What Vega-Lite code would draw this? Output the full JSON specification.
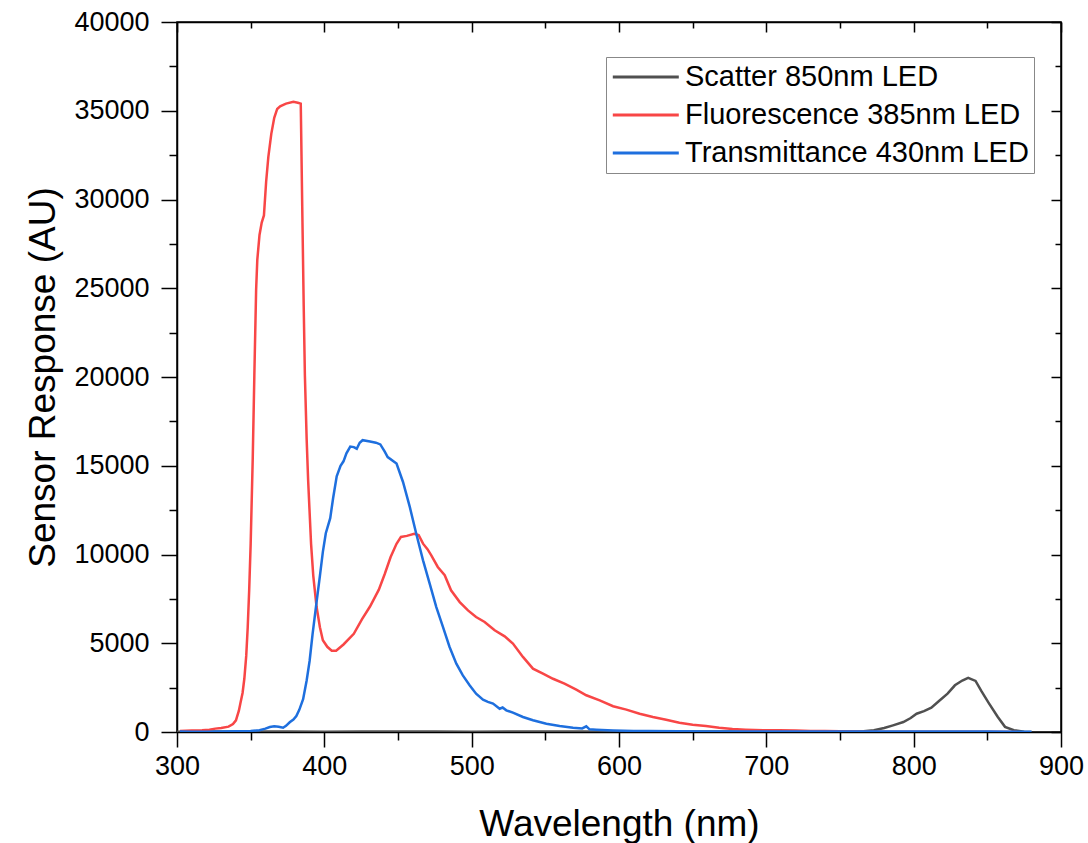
{
  "$schema": "https://vega.github.io/schema/vega-lite/v6.json",
  "width": 884,
  "height": 710,
  "autosize": "none",
  "padding": {"left": 177, "top": 22, "right": 27, "bottom": 111},
  "background": "white",
  "config": {
    "view": {"stroke": "black", "strokeWidth": 1.5},
    "axis": {
      "grid": false,
      "domainColor": "black",
      "domainWidth": 1.5,
      "tickColor": "black",
      "tickWidth": 1.5,
      "labelFont": "Liberation Sans",
      "labelColor": "black",
      "labelFlush": false,
      "labelOverlap": false,
      "titleFont": "Liberation Sans",
      "titleColor": "black",
      "titleFontWeight": "normal"
    }
  },
  "datasets": {
    "spectra": [
      {"wavelength": 300, "response": 20, "series": "Scatter 850nm LED"},
      {"wavelength": 325, "response": 30, "series": "Scatter 850nm LED"},
      {"wavelength": 350, "response": 20, "series": "Scatter 850nm LED"},
      {"wavelength": 375, "response": 35, "series": "Scatter 850nm LED"},
      {"wavelength": 400, "response": 20, "series": "Scatter 850nm LED"},
      {"wavelength": 425, "response": 30, "series": "Scatter 850nm LED"},
      {"wavelength": 450, "response": 25, "series": "Scatter 850nm LED"},
      {"wavelength": 475, "response": 35, "series": "Scatter 850nm LED"},
      {"wavelength": 500, "response": 20, "series": "Scatter 850nm LED"},
      {"wavelength": 525, "response": 30, "series": "Scatter 850nm LED"},
      {"wavelength": 550, "response": 25, "series": "Scatter 850nm LED"},
      {"wavelength": 575, "response": 30, "series": "Scatter 850nm LED"},
      {"wavelength": 600, "response": 20, "series": "Scatter 850nm LED"},
      {"wavelength": 625, "response": 30, "series": "Scatter 850nm LED"},
      {"wavelength": 650, "response": 25, "series": "Scatter 850nm LED"},
      {"wavelength": 675, "response": 30, "series": "Scatter 850nm LED"},
      {"wavelength": 700, "response": 20, "series": "Scatter 850nm LED"},
      {"wavelength": 725, "response": 30, "series": "Scatter 850nm LED"},
      {"wavelength": 750, "response": 30, "series": "Scatter 850nm LED"},
      {"wavelength": 766, "response": 40, "series": "Scatter 850nm LED"},
      {"wavelength": 773, "response": 95, "series": "Scatter 850nm LED"},
      {"wavelength": 780, "response": 225, "series": "Scatter 850nm LED"},
      {"wavelength": 786, "response": 375, "series": "Scatter 850nm LED"},
      {"wavelength": 793, "response": 560, "series": "Scatter 850nm LED"},
      {"wavelength": 798, "response": 790, "series": "Scatter 850nm LED"},
      {"wavelength": 802, "response": 1030, "series": "Scatter 850nm LED"},
      {"wavelength": 807, "response": 1180, "series": "Scatter 850nm LED"},
      {"wavelength": 812, "response": 1370, "series": "Scatter 850nm LED"},
      {"wavelength": 817, "response": 1730, "series": "Scatter 850nm LED"},
      {"wavelength": 823, "response": 2160, "series": "Scatter 850nm LED"},
      {"wavelength": 828, "response": 2630, "series": "Scatter 850nm LED"},
      {"wavelength": 833, "response": 2900, "series": "Scatter 850nm LED"},
      {"wavelength": 837, "response": 3050, "series": "Scatter 850nm LED"},
      {"wavelength": 842, "response": 2880, "series": "Scatter 850nm LED"},
      {"wavelength": 846, "response": 2300, "series": "Scatter 850nm LED"},
      {"wavelength": 851, "response": 1630, "series": "Scatter 850nm LED"},
      {"wavelength": 857, "response": 860, "series": "Scatter 850nm LED"},
      {"wavelength": 862, "response": 290, "series": "Scatter 850nm LED"},
      {"wavelength": 868, "response": 100, "series": "Scatter 850nm LED"},
      {"wavelength": 875, "response": 10, "series": "Scatter 850nm LED"},
      {"wavelength": 880, "response": 5, "series": "Scatter 850nm LED"},

      {"wavelength": 302, "response": 60, "series": "Fluorescence 385nm LED"},
      {"wavelength": 310, "response": 90, "series": "Fluorescence 385nm LED"},
      {"wavelength": 317, "response": 100, "series": "Fluorescence 385nm LED"},
      {"wavelength": 322, "response": 130, "series": "Fluorescence 385nm LED"},
      {"wavelength": 326, "response": 190, "series": "Fluorescence 385nm LED"},
      {"wavelength": 330, "response": 230, "series": "Fluorescence 385nm LED"},
      {"wavelength": 335, "response": 300, "series": "Fluorescence 385nm LED"},
      {"wavelength": 338, "response": 450, "series": "Fluorescence 385nm LED"},
      {"wavelength": 340, "response": 660, "series": "Fluorescence 385nm LED"},
      {"wavelength": 342, "response": 1200, "series": "Fluorescence 385nm LED"},
      {"wavelength": 343, "response": 1600, "series": "Fluorescence 385nm LED"},
      {"wavelength": 344.5, "response": 2200, "series": "Fluorescence 385nm LED"},
      {"wavelength": 345.7, "response": 3000, "series": "Fluorescence 385nm LED"},
      {"wavelength": 347, "response": 4300, "series": "Fluorescence 385nm LED"},
      {"wavelength": 348, "response": 5900, "series": "Fluorescence 385nm LED"},
      {"wavelength": 349, "response": 8000, "series": "Fluorescence 385nm LED"},
      {"wavelength": 350, "response": 10600, "series": "Fluorescence 385nm LED"},
      {"wavelength": 351.4, "response": 15400, "series": "Fluorescence 385nm LED"},
      {"wavelength": 352.5, "response": 20100, "series": "Fluorescence 385nm LED"},
      {"wavelength": 353.7, "response": 24900, "series": "Fluorescence 385nm LED"},
      {"wavelength": 354.5, "response": 26600, "series": "Fluorescence 385nm LED"},
      {"wavelength": 356, "response": 28000, "series": "Fluorescence 385nm LED"},
      {"wavelength": 357.5, "response": 28700, "series": "Fluorescence 385nm LED"},
      {"wavelength": 359, "response": 29100, "series": "Fluorescence 385nm LED"},
      {"wavelength": 360.5, "response": 31000, "series": "Fluorescence 385nm LED"},
      {"wavelength": 362, "response": 32400, "series": "Fluorescence 385nm LED"},
      {"wavelength": 364, "response": 33700, "series": "Fluorescence 385nm LED"},
      {"wavelength": 366, "response": 34600, "series": "Fluorescence 385nm LED"},
      {"wavelength": 368, "response": 35100, "series": "Fluorescence 385nm LED"},
      {"wavelength": 370, "response": 35250, "series": "Fluorescence 385nm LED"},
      {"wavelength": 374, "response": 35400, "series": "Fluorescence 385nm LED"},
      {"wavelength": 379, "response": 35500, "series": "Fluorescence 385nm LED"},
      {"wavelength": 382, "response": 35450, "series": "Fluorescence 385nm LED"},
      {"wavelength": 384, "response": 35400, "series": "Fluorescence 385nm LED"},
      {"wavelength": 385, "response": 29600, "series": "Fluorescence 385nm LED"},
      {"wavelength": 386, "response": 24000, "series": "Fluorescence 385nm LED"},
      {"wavelength": 386.8, "response": 20100, "series": "Fluorescence 385nm LED"},
      {"wavelength": 388, "response": 16500, "series": "Fluorescence 385nm LED"},
      {"wavelength": 389, "response": 14200, "series": "Fluorescence 385nm LED"},
      {"wavelength": 391, "response": 10600, "series": "Fluorescence 385nm LED"},
      {"wavelength": 392.5, "response": 8800, "series": "Fluorescence 385nm LED"},
      {"wavelength": 394.7, "response": 7070, "series": "Fluorescence 385nm LED"},
      {"wavelength": 397, "response": 5900, "series": "Fluorescence 385nm LED"},
      {"wavelength": 399, "response": 5170, "series": "Fluorescence 385nm LED"},
      {"wavelength": 402, "response": 4800, "series": "Fluorescence 385nm LED"},
      {"wavelength": 405, "response": 4580, "series": "Fluorescence 385nm LED"},
      {"wavelength": 408, "response": 4580, "series": "Fluorescence 385nm LED"},
      {"wavelength": 413, "response": 4930, "series": "Fluorescence 385nm LED"},
      {"wavelength": 420, "response": 5530, "series": "Fluorescence 385nm LED"},
      {"wavelength": 425.6, "response": 6360, "series": "Fluorescence 385nm LED"},
      {"wavelength": 431, "response": 7070, "series": "Fluorescence 385nm LED"},
      {"wavelength": 437, "response": 8020, "series": "Fluorescence 385nm LED"},
      {"wavelength": 441, "response": 8900, "series": "Fluorescence 385nm LED"},
      {"wavelength": 445, "response": 9860, "series": "Fluorescence 385nm LED"},
      {"wavelength": 449, "response": 10600, "series": "Fluorescence 385nm LED"},
      {"wavelength": 452, "response": 10990, "series": "Fluorescence 385nm LED"},
      {"wavelength": 456, "response": 11050, "series": "Fluorescence 385nm LED"},
      {"wavelength": 461, "response": 11170, "series": "Fluorescence 385nm LED"},
      {"wavelength": 464, "response": 11100, "series": "Fluorescence 385nm LED"},
      {"wavelength": 467, "response": 10610, "series": "Fluorescence 385nm LED"},
      {"wavelength": 470, "response": 10300, "series": "Fluorescence 385nm LED"},
      {"wavelength": 472.6, "response": 9950, "series": "Fluorescence 385nm LED"},
      {"wavelength": 477, "response": 9300, "series": "Fluorescence 385nm LED"},
      {"wavelength": 481.7, "response": 8830, "series": "Fluorescence 385nm LED"},
      {"wavelength": 486, "response": 7980, "series": "Fluorescence 385nm LED"},
      {"wavelength": 491.9, "response": 7320, "series": "Fluorescence 385nm LED"},
      {"wavelength": 497.5, "response": 6850, "series": "Fluorescence 385nm LED"},
      {"wavelength": 503, "response": 6480, "series": "Fluorescence 385nm LED"},
      {"wavelength": 508.8, "response": 6200, "series": "Fluorescence 385nm LED"},
      {"wavelength": 515.6, "response": 5730, "series": "Fluorescence 385nm LED"},
      {"wavelength": 522.4, "response": 5390, "series": "Fluorescence 385nm LED"},
      {"wavelength": 528, "response": 4980, "series": "Fluorescence 385nm LED"},
      {"wavelength": 534.8, "response": 4230, "series": "Fluorescence 385nm LED"},
      {"wavelength": 541.6, "response": 3570, "series": "Fluorescence 385nm LED"},
      {"wavelength": 548.4, "response": 3290, "series": "Fluorescence 385nm LED"},
      {"wavelength": 555.2, "response": 3000, "series": "Fluorescence 385nm LED"},
      {"wavelength": 563, "response": 2720, "series": "Fluorescence 385nm LED"},
      {"wavelength": 571, "response": 2390, "series": "Fluorescence 385nm LED"},
      {"wavelength": 577.8, "response": 2070, "series": "Fluorescence 385nm LED"},
      {"wavelength": 586.9, "response": 1780, "series": "Fluorescence 385nm LED"},
      {"wavelength": 596, "response": 1450, "series": "Fluorescence 385nm LED"},
      {"wavelength": 605, "response": 1260, "series": "Fluorescence 385nm LED"},
      {"wavelength": 614, "response": 1030, "series": "Fluorescence 385nm LED"},
      {"wavelength": 623, "response": 845, "series": "Fluorescence 385nm LED"},
      {"wavelength": 632, "response": 695, "series": "Fluorescence 385nm LED"},
      {"wavelength": 641, "response": 525, "series": "Fluorescence 385nm LED"},
      {"wavelength": 650, "response": 410, "series": "Fluorescence 385nm LED"},
      {"wavelength": 659, "response": 340, "series": "Fluorescence 385nm LED"},
      {"wavelength": 668, "response": 245, "series": "Fluorescence 385nm LED"},
      {"wavelength": 677, "response": 170, "series": "Fluorescence 385nm LED"},
      {"wavelength": 686, "response": 130, "series": "Fluorescence 385nm LED"},
      {"wavelength": 698, "response": 95, "series": "Fluorescence 385nm LED"},
      {"wavelength": 709, "response": 95, "series": "Fluorescence 385nm LED"},
      {"wavelength": 720, "response": 80, "series": "Fluorescence 385nm LED"},
      {"wavelength": 730, "response": 60, "series": "Fluorescence 385nm LED"},
      {"wavelength": 740, "response": 50, "series": "Fluorescence 385nm LED"},
      {"wavelength": 750, "response": 40, "series": "Fluorescence 385nm LED"},
      {"wavelength": 760, "response": 30, "series": "Fluorescence 385nm LED"},
      {"wavelength": 770, "response": 20, "series": "Fluorescence 385nm LED"},
      {"wavelength": 790, "response": 20, "series": "Fluorescence 385nm LED"},
      {"wavelength": 810, "response": 15, "series": "Fluorescence 385nm LED"},
      {"wavelength": 830, "response": 10, "series": "Fluorescence 385nm LED"},
      {"wavelength": 850, "response": 10, "series": "Fluorescence 385nm LED"},
      {"wavelength": 870, "response": 5, "series": "Fluorescence 385nm LED"},

      {"wavelength": 302, "response": 30, "series": "Transmittance 430nm LED"},
      {"wavelength": 310, "response": 20, "series": "Transmittance 430nm LED"},
      {"wavelength": 320, "response": 20, "series": "Transmittance 430nm LED"},
      {"wavelength": 330, "response": 30, "series": "Transmittance 430nm LED"},
      {"wavelength": 340, "response": 40, "series": "Transmittance 430nm LED"},
      {"wavelength": 350, "response": 60, "series": "Transmittance 430nm LED"},
      {"wavelength": 356, "response": 100, "series": "Transmittance 430nm LED"},
      {"wavelength": 360, "response": 190, "series": "Transmittance 430nm LED"},
      {"wavelength": 363, "response": 280, "series": "Transmittance 430nm LED"},
      {"wavelength": 366, "response": 320, "series": "Transmittance 430nm LED"},
      {"wavelength": 369, "response": 300, "series": "Transmittance 430nm LED"},
      {"wavelength": 372, "response": 240, "series": "Transmittance 430nm LED"},
      {"wavelength": 374, "response": 350, "series": "Transmittance 430nm LED"},
      {"wavelength": 376.5, "response": 550, "series": "Transmittance 430nm LED"},
      {"wavelength": 379, "response": 700, "series": "Transmittance 430nm LED"},
      {"wavelength": 381, "response": 900, "series": "Transmittance 430nm LED"},
      {"wavelength": 383, "response": 1250, "series": "Transmittance 430nm LED"},
      {"wavelength": 385.6, "response": 1850, "series": "Transmittance 430nm LED"},
      {"wavelength": 388, "response": 2900, "series": "Transmittance 430nm LED"},
      {"wavelength": 390, "response": 4000, "series": "Transmittance 430nm LED"},
      {"wavelength": 392, "response": 5500, "series": "Transmittance 430nm LED"},
      {"wavelength": 394.7, "response": 7300, "series": "Transmittance 430nm LED"},
      {"wavelength": 397, "response": 8800, "series": "Transmittance 430nm LED"},
      {"wavelength": 399, "response": 10150, "series": "Transmittance 430nm LED"},
      {"wavelength": 401, "response": 11200, "series": "Transmittance 430nm LED"},
      {"wavelength": 404, "response": 12050, "series": "Transmittance 430nm LED"},
      {"wavelength": 406, "response": 13200, "series": "Transmittance 430nm LED"},
      {"wavelength": 408.4, "response": 14400, "series": "Transmittance 430nm LED"},
      {"wavelength": 411, "response": 15000, "series": "Transmittance 430nm LED"},
      {"wavelength": 413, "response": 15250, "series": "Transmittance 430nm LED"},
      {"wavelength": 415, "response": 15700, "series": "Transmittance 430nm LED"},
      {"wavelength": 417.6, "response": 16080, "series": "Transmittance 430nm LED"},
      {"wavelength": 420, "response": 16050, "series": "Transmittance 430nm LED"},
      {"wavelength": 422, "response": 15960, "series": "Transmittance 430nm LED"},
      {"wavelength": 424, "response": 16300, "series": "Transmittance 430nm LED"},
      {"wavelength": 426, "response": 16440, "series": "Transmittance 430nm LED"},
      {"wavelength": 431, "response": 16370, "series": "Transmittance 430nm LED"},
      {"wavelength": 435, "response": 16300, "series": "Transmittance 430nm LED"},
      {"wavelength": 438, "response": 16200, "series": "Transmittance 430nm LED"},
      {"wavelength": 441, "response": 15800, "series": "Transmittance 430nm LED"},
      {"wavelength": 443, "response": 15490, "series": "Transmittance 430nm LED"},
      {"wavelength": 449, "response": 15120, "series": "Transmittance 430nm LED"},
      {"wavelength": 453.4, "response": 14085, "series": "Transmittance 430nm LED"},
      {"wavelength": 458, "response": 12680, "series": "Transmittance 430nm LED"},
      {"wavelength": 462.4, "response": 11170, "series": "Transmittance 430nm LED"},
      {"wavelength": 467, "response": 9670, "series": "Transmittance 430nm LED"},
      {"wavelength": 471.5, "response": 8360, "series": "Transmittance 430nm LED"},
      {"wavelength": 476, "response": 7040, "series": "Transmittance 430nm LED"},
      {"wavelength": 480.5, "response": 5920, "series": "Transmittance 430nm LED"},
      {"wavelength": 485, "response": 4790, "series": "Transmittance 430nm LED"},
      {"wavelength": 489.6, "response": 3850, "series": "Transmittance 430nm LED"},
      {"wavelength": 494, "response": 3190, "series": "Transmittance 430nm LED"},
      {"wavelength": 498.6, "response": 2630, "series": "Transmittance 430nm LED"},
      {"wavelength": 503, "response": 2160, "series": "Transmittance 430nm LED"},
      {"wavelength": 507.7, "response": 1820, "series": "Transmittance 430nm LED"},
      {"wavelength": 511, "response": 1700, "series": "Transmittance 430nm LED"},
      {"wavelength": 514.5, "response": 1600, "series": "Transmittance 430nm LED"},
      {"wavelength": 519, "response": 1310, "series": "Transmittance 430nm LED"},
      {"wavelength": 521, "response": 1380, "series": "Transmittance 430nm LED"},
      {"wavelength": 523.5, "response": 1220, "series": "Transmittance 430nm LED"},
      {"wavelength": 528, "response": 1090, "series": "Transmittance 430nm LED"},
      {"wavelength": 534.8, "response": 845, "series": "Transmittance 430nm LED"},
      {"wavelength": 541.6, "response": 660, "series": "Transmittance 430nm LED"},
      {"wavelength": 550.7, "response": 470, "series": "Transmittance 430nm LED"},
      {"wavelength": 559.7, "response": 340, "series": "Transmittance 430nm LED"},
      {"wavelength": 568.8, "response": 240, "series": "Transmittance 430nm LED"},
      {"wavelength": 575, "response": 200, "series": "Transmittance 430nm LED"},
      {"wavelength": 577.8, "response": 320, "series": "Transmittance 430nm LED"},
      {"wavelength": 580, "response": 150, "series": "Transmittance 430nm LED"},
      {"wavelength": 584.6, "response": 130, "series": "Transmittance 430nm LED"},
      {"wavelength": 596, "response": 90, "series": "Transmittance 430nm LED"},
      {"wavelength": 610, "response": 60, "series": "Transmittance 430nm LED"},
      {"wavelength": 620, "response": 55, "series": "Transmittance 430nm LED"},
      {"wavelength": 640, "response": 40, "series": "Transmittance 430nm LED"},
      {"wavelength": 660, "response": 30, "series": "Transmittance 430nm LED"},
      {"wavelength": 680, "response": 30, "series": "Transmittance 430nm LED"},
      {"wavelength": 700, "response": 25, "series": "Transmittance 430nm LED"},
      {"wavelength": 720, "response": 30, "series": "Transmittance 430nm LED"},
      {"wavelength": 750, "response": 25, "series": "Transmittance 430nm LED"},
      {"wavelength": 780, "response": 25, "series": "Transmittance 430nm LED"},
      {"wavelength": 800, "response": 30, "series": "Transmittance 430nm LED"},
      {"wavelength": 830, "response": 25, "series": "Transmittance 430nm LED"},
      {"wavelength": 850, "response": 30, "series": "Transmittance 430nm LED"},
      {"wavelength": 870, "response": 20, "series": "Transmittance 430nm LED"},
      {"wavelength": 880, "response": 10, "series": "Transmittance 430nm LED"}
    ]
  },
  "data": {"name": "spectra"},
  "layer": [
    {
      "mark": {"type": "line", "strokeWidth": 2.5, "clip": true},
      "encoding": {
        "x": {
          "field": "wavelength", "type": "quantitative",
          "scale": {"domain": [300, 900], "nice": false, "zero": false},
          "axis": {
            "orient": "bottom",
            "title": "Wavelength (nm)",
            "values": [300, 400, 500, 600, 700, 800, 900],
            "format": "d",
            "tickSize": 15,
            "labelFontSize": 27,
            "labelPadding": 6,
            "titleFontSize": 37,
            "titlePadding": 27
          }
        },
        "y": {
          "field": "response", "type": "quantitative",
          "scale": {"domain": [0, 40000], "nice": false},
          "axis": {
            "orient": "left",
            "title": "Sensor Response (AU)",
            "values": [0, 5000, 10000, 15000, 20000, 25000, 30000, 35000, 40000],
            "format": "d",
            "tickSize": 16,
            "labelFontSize": 27,
            "labelPadding": 12,
            "titleFontSize": 37,
            "titlePadding": 11
          }
        },
        "color": {
          "field": "series", "type": "nominal",
          "scale": {
            "domain": ["Scatter 850nm LED", "Fluorescence 385nm LED", "Transmittance 430nm LED"],
            "range": ["#505050", "#F84646", "#1E6FDE"]
          },
          "legend": {
            "title": null,
            "orient": "none",
            "legendX": 429,
            "legendY": 35,
            "symbolType": "M-1,0H4",
            "symbolSize": 697,
            "symbolStrokeWidth": 3,
            "symbolFillColor": "transparent",
            "labelFont": "Liberation Sans",
            "labelFontSize": 29,
            "labelColor": "black",
            "labelOffset": 44,
            "labelLimit": 600,
            "rowPadding": 8,
            "padding": 5,
            "strokeColor": "#888888",
            "fillColor": "white"
          }
        }
      }
    },
    {
      "mark": {"type": "point", "opacity": 0},
      "encoding": {
        "x": {
          "field": "wavelength", "type": "quantitative",
          "scale": {"domain": [300, 900], "nice": false, "zero": false},
          "axis": {"orient": "top", "title": null, "labels": false, "values": [300, 400, 500, 600, 700, 800, 900], "tickSize": -10}
        },
        "y": {
          "field": "response", "type": "quantitative",
          "scale": {"domain": [0, 40000], "nice": false},
          "axis": {"orient": "right", "title": null, "labels": false, "values": [0, 5000, 10000, 15000, 20000, 25000, 30000, 35000, 40000], "tickSize": -10}
        }
      }
    },
    {
      "mark": {"type": "point", "opacity": 0},
      "encoding": {
        "x": {
          "field": "wavelength", "type": "quantitative",
          "scale": {"domain": [300, 900], "nice": false, "zero": false},
          "axis": {"orient": "bottom", "title": null, "labels": false, "domain": false, "values": [350, 450, 550, 650, 750, 850], "tickSize": 8}
        },
        "y": {
          "field": "response", "type": "quantitative",
          "scale": {"domain": [0, 40000], "nice": false},
          "axis": {"orient": "left", "title": null, "labels": false, "domain": false, "values": [2500, 7500, 12500, 17500, 22500, 27500, 32500, 37500], "tickSize": 8}
        }
      }
    },
    {
      "mark": {"type": "point", "opacity": 0},
      "encoding": {
        "x": {
          "field": "wavelength", "type": "quantitative",
          "scale": {"domain": [300, 900], "nice": false, "zero": false},
          "axis": {"orient": "top", "title": null, "labels": false, "domain": false, "values": [350, 450, 550, 650, 750, 850], "tickSize": -6}
        },
        "y": {
          "field": "response", "type": "quantitative",
          "scale": {"domain": [0, 40000], "nice": false},
          "axis": {"orient": "right", "title": null, "labels": false, "domain": false, "values": [2500, 7500, 12500, 17500, 22500, 27500, 32500, 37500], "tickSize": -6}
        }
      }
    }
  ],
  "resolve": {"axis": {"x": "independent", "y": "independent"}}
}
